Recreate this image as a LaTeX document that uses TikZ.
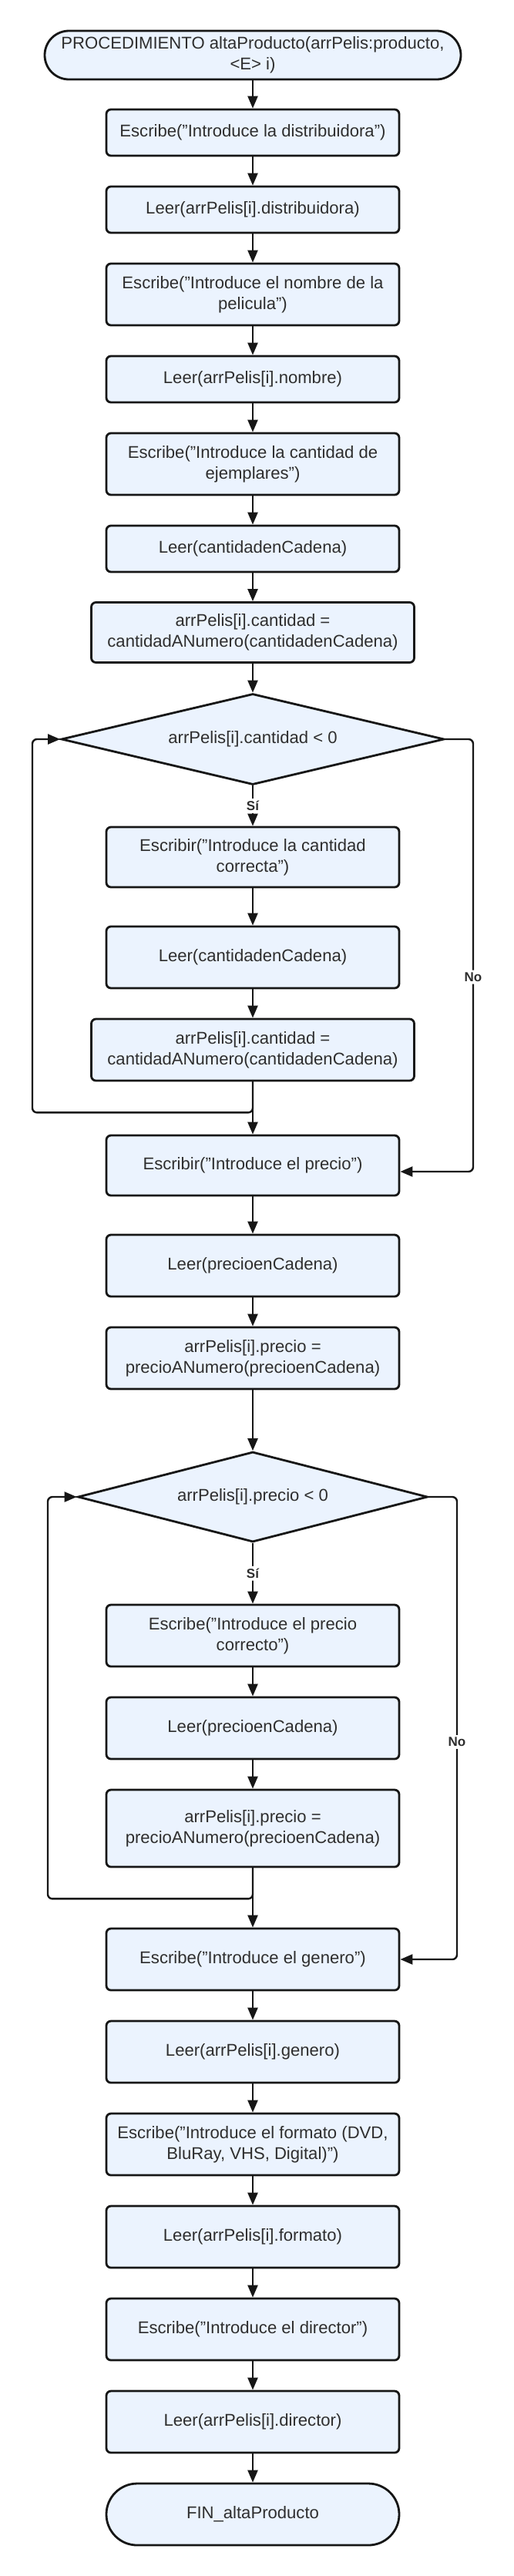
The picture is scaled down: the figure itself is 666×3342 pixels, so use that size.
\documentclass[tikz,border=0pt]{standalone}
\usepackage{fontspec}
\setmainfont{Liberation Sans}
\usetikzlibrary{arrows.meta,shapes.geometric}

\definecolor{relleno}{HTML}{EBF3FE}
\definecolor{texto}{HTML}{2E2E2E}
\definecolor{borde}{HTML}{161616}

\begin{document}
\begin{tikzpicture}[
    font=\fontsize{11.05}{13.4}\selectfont,
    x=0.5pt, y=-0.5pt,
    caja/.style={
        rectangle, draw=borde, line width=1.4pt, fill=relleno,
        rounded corners=3pt, text=texto, align=center,
        minimum width=190pt, minimum height=40pt, inner sep=2pt
    },
    corta/.style={caja, minimum height=30pt},
    ancha/.style={minimum width=209.5pt},
    terminal/.style={caja, minimum height=40pt, rounded corners=20pt},
    decision/.style={
        diamond, aspect=4, draw=borde, line width=1.4pt, fill=relleno,
        text=texto, inner sep=0pt
    },
    etiqueta/.style={
        fill=white, text=texto, inner sep=1.5pt,
        font=\fontsize{8.5}{10}\selectfont\bfseries
    },
    conn/.style={-{Triangle[length=8pt,width=6.5pt]}, line width=1.2pt, draw=borde, rounded corners=3pt},
]

    % Page frame (pixel units of the original drawing).
    \useasboundingbox (0,0) rectangle (666,3342);

    % Column x-coordinates.
    \def\xCentro{328}
    \def\xLazoA{42}
    \def\xNoA{614}
    \def\xLazoB{62}
    \def\xNoB{593}

    % ---------- Cabecera y lectura de datos ----------
    \node[terminal, minimum width=270pt, minimum height=31.5pt, rounded corners=15.75pt]
        (inicio) at (\xCentro, 71.5) {PROCEDIMIENTO altaProducto(arrPelis:producto,\\<E> i)};
    \node[corta] (distrib) at (\xCentro, 172) {Escribe("Introduce la distribuidora")};
    \node[corta] (leerdistrib) at (\xCentro, 272) {Leer(arrPelis[i].distribuidora)};
    \node[caja] (nombre) at (\xCentro, 382) {Escribe("Introduce el nombre de la\\pelicula")};
    \node[corta] (leernombre) at (\xCentro, 492) {Leer(arrPelis[i].nombre)};
    \node[caja] (cantidad) at (\xCentro, 602) {Escribe("Introduce la cantidad de\\ejemplares")};
    \node[corta] (leercant) at (\xCentro, 712) {Leer(cantidadenCadena)};
    \node[caja, ancha, minimum height=39pt] (cantnum) at (\xCentro, 820.5) {arrPelis[i].cantidad =\\cantidadANumero(cantidadenCadena)};

    \draw[conn] (inicio) -- (distrib);
    \draw[conn] (distrib) -- (leerdistrib);
    \draw[conn] (leerdistrib) -- (nombre);
    \draw[conn] (nombre) -- (leernombre);
    \draw[conn] (leernombre) -- (cantidad);
    \draw[conn] (cantidad) -- (leercant);
    \draw[conn] (leercant) -- (cantnum);

    % ---------- Bucle de la cantidad ----------
    \node[decision, minimum width=248.5pt, minimum height=59pt] (condcant) at (\xCentro, 959) {arrPelis[i].cantidad < 0};
    \node[caja, minimum height=39pt] (correcta) at (\xCentro, 1112) {Escribir("Introduce la cantidad\\correcta")};
    \node[caja] (leercant2) at (\xCentro, 1242) {Leer(cantidadenCadena)};
    \node[caja, ancha] (cantnum2) at (\xCentro, 1362) {arrPelis[i].cantidad =\\cantidadANumero(cantidadenCadena)};

    \draw[conn] (cantnum) -- (condcant);
    \draw[conn] (condcant) -- node[etiqueta] {Sí} (correcta);
    \draw[conn] (correcta) -- (leercant2);
    \draw[conn] (leercant2) -- (cantnum2);
    \draw[conn] (cantnum2.south) -- ++(0,40) -| (\xLazoA, 959) -- (condcant.west);

    % ---------- Precio ----------
    \node[caja, minimum height=39pt] (precio) at (\xCentro, 1512) {Escribir("Introduce el precio")};
    \node[caja] (leerprecio) at (\xCentro, 1642) {Leer(precioenCadena)};
    \node[caja] (precionum) at (\xCentro, 1762) {arrPelis[i].precio =\\precioANumero(precioenCadena)};

    \draw[conn] (cantnum2) -- (precio);
    \draw[conn] (condcant.east) -- (\xNoA, 959) -- node[etiqueta, pos=0.55] {No} (\xNoA, 1520) -- (precio.east |- 0,1520);
    \draw[conn] (precio) -- (leerprecio);
    \draw[conn] (leerprecio) -- (precionum);

    % ---------- Bucle del precio ----------
    \node[decision, minimum width=227pt, minimum height=58.5pt] (condprecio) at (\xCentro, 1942) {arrPelis[i].precio < 0};
    \node[caja] (preciocorr) at (\xCentro, 2122) {Escribe("Introduce el precio\\correcto")};
    \node[caja] (leerprecio2) at (\xCentro, 2242) {Leer(precioenCadena)};
    \node[caja, minimum height=50pt] (precionum2) at (\xCentro, 2372) {arrPelis[i].precio =\\precioANumero(precioenCadena)};

    \draw[conn] (precionum) -- (condprecio);
    \draw[conn] (condprecio) -- node[etiqueta] {Sí} (preciocorr);
    \draw[conn] (preciocorr) -- (leerprecio2);
    \draw[conn] (leerprecio2) -- (precionum2);
    \draw[conn] (precionum2.south) -- ++(0,40) -| (\xLazoB, 1942) -- (condprecio.west);

    % ---------- Resto de datos ----------
    \node[caja] (genero) at (\xCentro, 2542) {Escribe("Introduce el genero")};
    \node[caja] (leergenero) at (\xCentro, 2662) {Leer(arrPelis[i].genero)};
    \node[caja] (formato) at (\xCentro, 2782) {Escribe("Introduce el formato (DVD,\\BluRay, VHS, Digital)")};
    \node[caja] (leerformato) at (\xCentro, 2902) {Leer(arrPelis[i].formato)};
    \node[caja] (director) at (\xCentro, 3022) {Escribe("Introduce el director")};
    \node[caja] (leerdirector) at (\xCentro, 3142) {Leer(arrPelis[i].director)};
    \node[terminal] (fin) at (\xCentro, 3262) {FIN\_altaProducto};

    \draw[conn] (precionum2) -- (genero);
    \draw[conn] (condprecio.east) -- (\xNoB, 1942) -- node[etiqueta, pos=0.53] {No} (\xNoB, 2542) -- (genero.east);
    \draw[conn] (genero) -- (leergenero);
    \draw[conn] (leergenero) -- (formato);
    \draw[conn] (formato) -- (leerformato);
    \draw[conn] (leerformato) -- (director);
    \draw[conn] (director) -- (leerdirector);
    \draw[conn] (leerdirector) -- (fin);

\end{tikzpicture}
\end{document}
